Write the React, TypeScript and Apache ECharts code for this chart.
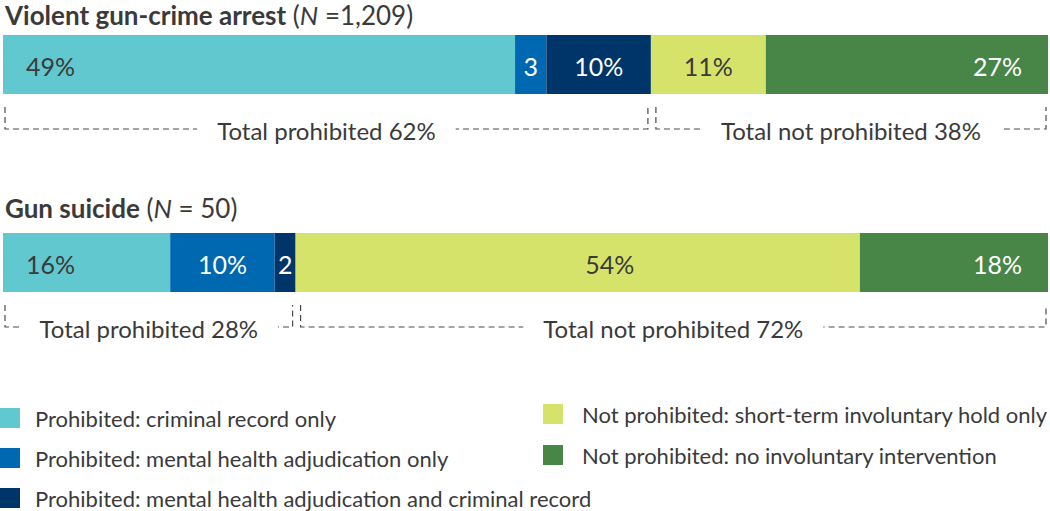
import React, { useEffect, useRef } from "react";
import * as echarts from "echarts";

const groups = ["Violent gun-crime arrest", "Gun suicide"];
const groupCounts = ["=1,209", "= 50"];
const segmentNames = [
  "Prohibited: criminal record only",
  "Prohibited: mental health adjudication only",
  "Prohibited: mental health adjudication and criminal record",
  "Not prohibited: short-term involuntary hold only",
  "Not prohibited: no involuntary intervention",
];
const arrestValues = [49, 3, 10, 11, 27];
const suicideValues = [16, 10, 2, 54, 18];
const prohibitedSegments = 3;
const totalLabels = ["Total prohibited", "Total not prohibited"];

const colors = ["#62c8d0", "#0067b1", "#00356a", "#d5e36b", "#488648"];
const labelColors = ["#3a3a3a", "#ffffff", "#ffffff", "#3a3a3a", "#ffffff"];
const FONT = "Lato, 'Noto Sans', sans-serif";
const TEXT = "#3a3a3a";

const gridTops = [35, 233];
const BAR_H = 59;
const titleY = [15, 208];

export default function App() {
  const ref = useRef<HTMLDivElement>(null);
  useEffect(() => {
    document.body.style.margin = "0";
    const chart = echarts.init(ref.current!, null, { renderer: "svg" });
    const valueSets = [arrestValues, suicideValues];
    const series: any[] = [];
    valueSets.forEach((vals, g) => {
      vals.forEach((v, s) => {
        const shift = g === 1 && s === 3 ? 32 : 0;
        series.push({
          type: "bar",
          name: segmentNames[s],
          xAxisIndex: g,
          yAxisIndex: g,
          stack: "g" + g,
          barWidth: "100%",
          data: [v],
          itemStyle: { color: colors[s] },
          label: {
            show: true,
            position: s === 0 ? "insideLeft" : s === vals.length - 1 ? "insideRight" : "inside",
            distance: s === 0 ? 23 : 26,
            offset: [shift, 1],
            formatter: (p: any) => (p.value < 5 ? `${p.value}` : `${p.value}%`),
            color: labelColors[s],
            fontSize: 25,
            fontFamily: FONT,
          },
          emphasis: { disabled: true },
        });
      });
    });
    const option: any = {
      animation: false,
      grid: gridTops.map((t) => ({ left: 3, right: 2, top: t, height: BAR_H })),
      xAxis: gridTops.map((_, g) => ({ type: "value", gridIndex: g, min: 0, max: 100, show: false })),
      yAxis: gridTops.map((_, g) => ({ type: "category", gridIndex: g, data: [groups[g]], show: false })),
      legend: [
        {
          left: 0,
          top: 407,
          padding: 0,
          orient: "vertical",
          data: segmentNames.slice(0, 3),
          icon: "rect",
          itemWidth: 20,
          itemHeight: 20,
          itemGap: 18,
          selectedMode: false,
          textStyle: { fontSize: 22, fontFamily: FONT, color: TEXT, lineHeight: 20, padding: [0, 0, 0, 10] },
        },
        {
          left: 543,
          top: 403,
          padding: 0,
          orient: "vertical",
          data: segmentNames.slice(3),
          icon: "rect",
          itemWidth: 20,
          itemHeight: 20,
          itemGap: 19,
          selectedMode: false,
          textStyle: { fontSize: 22, fontFamily: FONT, color: TEXT, lineHeight: 20, padding: [0, 0, 0, 14] },
        },
      ],
      series,
    };
    chart.setOption(option);

    const graphics: any[] = [];
    valueSets.forEach((vals, g) => {
      graphics.push({
        type: "text",
        x: 5,
        y: titleY[g],
        style: {
          text: `{b|${groups[g]}} {r|(}{i|N}{r| ${groupCounts[g]})}`,
          rich: {
            b: { fontSize: 26, fontWeight: "bold", fontFamily: FONT, fill: TEXT },
            r: { fontSize: 26, fontFamily: FONT, fill: TEXT },
            i: { fontSize: 26, fontStyle: "italic", fontFamily: FONT, fill: TEXT },
          },
          fontSize: 26,
          fontFamily: FONT,
          verticalAlign: "middle",
        },
      });
      const px = (v: number) => chart.convertToPixel({ gridIndex: g }, [v, 0])[0];
      const prohibited = vals.slice(0, prohibitedSegments).reduce((a, b) => a + b, 0);
      const total = vals.reduce((a, b) => a + b, 0);
      const barBottom = gridTops[g] + BAR_H;
      const vTop = barBottom + 13;
      const lineY = barBottom + 35;
      const spans = [
        [px(0) + 2, px(prohibited) - 3, prohibited],
        [px(prohibited) + 5, px(total) - 2, total - prohibited],
      ];
      spans.forEach(([x0, x1, pct], k) => {
        graphics.push({
          type: "polyline",
          shape: { points: [[x0, vTop], [x0, lineY], [x1, lineY], [x1, vTop]] },
          style: { stroke: "#4a4a4a", lineWidth: 1.2, fill: null, lineDash: [6, 4] },
          silent: true,
        });
        graphics.push({
          type: "text",
          x: (x0 + x1) / 2,
          y: lineY + 1,
          style: {
            text: `${totalLabels[k]} ${pct}%`,
            fontSize: 24,
            fontFamily: FONT,
            fill: TEXT,
            align: "center",
            verticalAlign: "middle",
            backgroundColor: "#ffffff",
            padding: [2, 20],
          },
          z: 10,
          silent: true,
        });
      });
    });
    chart.setOption({ graphic: graphics });
    return () => chart.dispose();
  }, []);
  return <div ref={ref} style={{ width: 1050, height: 511 }} />;
}
